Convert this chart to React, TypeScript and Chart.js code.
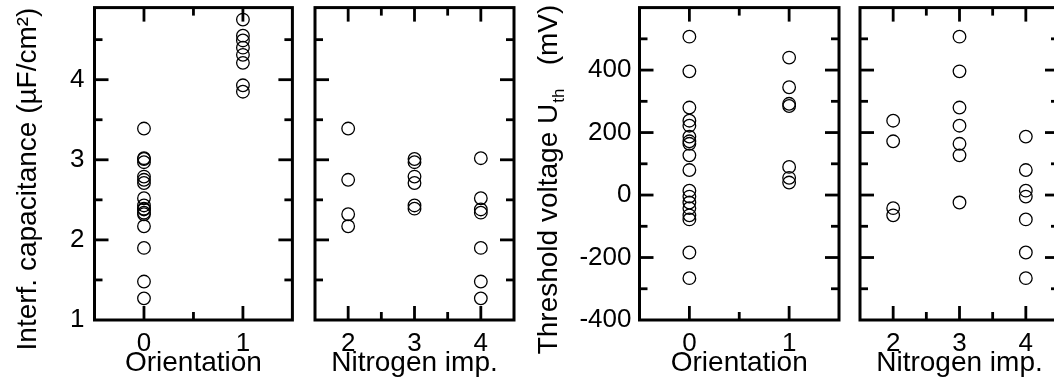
import React, { useEffect, useRef } from 'react';
import { Chart, registerables } from 'chart.js';

Chart.register(...registerables);

// ---- Data ----
const orientationCats = [0, 1];
const nitrogenCats = [2, 3, 4];

// Interface capacitance (µF/cm²)
const capOrient0 = [3.39, 3.02, 3.01, 2.97, 2.79, 2.75, 2.71, 2.52, 2.43, 2.39, 2.38, 2.34, 2.32, 2.17, 1.9, 1.48, 1.27];
const capOrient1 = [4.75, 4.55, 4.49, 4.4, 4.31, 4.21, 3.93, 3.85];
const capN2 = [3.39, 2.75, 2.32, 2.17];
const capN3 = [3.01, 2.97, 2.79, 2.71, 2.43, 2.39];
const capN4 = [3.02, 2.52, 2.38, 2.34, 1.9, 1.48, 1.27];

// Threshold voltage (mV)
const vthOrient0 = [507, 396, 280, 238, 222, 187, 172, 164, 127, 80, 14, -5, -24, -42, -65, -78, -184, -266];
const vthOrient1 = [440, 345, 292, 285, 90, 55, 40];
const vthN2 = [238, 172, -42, -65];
const vthN3 = [507, 396, 280, 222, 164, 127, -24];
const vthN4 = [187, 80, 14, -5, -78, -184, -266];

const capTicks = [1, 2, 3, 4];
const vthTicks = [-400, -200, 0, 200, 400];

const FONT = "'Liberation Sans', Arial, Helvetica, sans-serif";
const H = 383;

type Panel = {
  left: number;
  width: number;
  areaLeft: number;
  areaRight: number;
  areaTop: number;
  areaBottom: number;
  xMin: number;
  xMax: number;
  yMin: number;
  yMax: number;
  yStep: number;
  yMinorStep: number;
  cats: number[];
  groups: number[][];
  xTitle: string;
  yTicks: number[];
  yTitle?: { parts: { text: string; sub?: boolean }[]; cx: number; cy: number };
  labelPad: number;
};

const panels: Panel[] = [
  {
    left: 0, width: 300, areaLeft: 94.5, areaRight: 293, areaTop: 5, areaBottom: 320,
    xMin: -0.5, xMax: 1.5, yMin: 1, yMax: 4.9, yStep: 1, yMinorStep: 0.5,
    cats: orientationCats, groups: [capOrient0, capOrient1], xTitle: 'Orientation', yTicks: capTicks,
    yTitle: { parts: [{ text: 'Interf. capacitance (µF/cm²)' }], cx: 28, cy: 179 },
    labelPad: 10,
  },
  {
    left: 300, width: 225, areaLeft: 15, areaRight: 214, areaTop: 5, areaBottom: 320,
    xMin: 1.5, xMax: 4.5, yMin: 1, yMax: 4.9, yStep: 1, yMinorStep: 0.5,
    cats: nitrogenCats, groups: [capN2, capN3, capN4], xTitle: 'Nitrogen imp.', yTicks: [],
    labelPad: 10,
  },
  {
    left: 525, width: 325, areaLeft: 114.5, areaRight: 314, areaTop: 4, areaBottom: 320,
    xMin: -0.5, xMax: 1.5, yMin: -400, yMax: 600, yStep: 200, yMinorStep: 100,
    cats: orientationCats, groups: [vthOrient0, vthOrient1], xTitle: 'Orientation', yTicks: vthTicks,
    yTitle: { parts: [{ text: 'Threshold voltage U' }, { text: 'th', sub: true }, { text: '   (mV)' }], cx: 24, cy: 180 },
    labelPad: 8,
  },
  {
    left: 850, width: 225, areaLeft: 10, areaRight: 209, areaTop: 4, areaBottom: 320,
    xMin: 1.5, xMax: 4.5, yMin: -400, yMax: 600, yStep: 200, yMinorStep: 100,
    cats: nitrogenCats, groups: [vthN2, vthN3, vthN4], xTitle: 'Nitrogen imp.', yTicks: [],
    labelPad: 8,
  },
];

function makeFramePlugin(p: Panel) {
  return {
    id: 'frameTicks',
    afterDraw(chart: any) {
      const { ctx, chartArea: a, scales } = chart;
      const xs = scales.x;
      const ys = scales.y;
      ctx.save();
      ctx.strokeStyle = '#000';
      ctx.lineCap = 'butt';
      ctx.lineWidth = 2.8;
      const line = (x1: number, y1: number, x2: number, y2: number) => {
        ctx.beginPath();
        ctx.moveTo(x1, y1);
        ctx.lineTo(x2, y2);
        ctx.stroke();
      };
      // x ticks (inward, bottom and top)
      for (let v = Math.ceil(p.xMin * 2) / 2; v <= p.xMax + 1e-9; v += 0.5) {
        const px = xs.getPixelForValue(v);
        if (px <= a.left + 2 || px >= a.right - 2) continue;
        const len = Math.abs(v - Math.round(v)) < 1e-9 ? 14 : 8;
        line(px, a.bottom, px, a.bottom - len);
        line(px, a.top, px, a.top + len);
      }
      // y ticks (inward, left and right)
      for (let v = Math.ceil(p.yMin / p.yMinorStep) * p.yMinorStep; v <= p.yMax + 1e-9; v += p.yMinorStep) {
        const py = ys.getPixelForValue(v);
        if (py <= a.top + 2 || py >= a.bottom - 2) continue;
        const major = Math.abs(v / p.yStep - Math.round(v / p.yStep)) < 1e-6;
        const len = major ? 14 : 8;
        line(a.left, py, a.left + len, py);
        line(a.right, py, a.right - len, py);
      }
      // frame
      ctx.lineWidth = 3;
      ctx.strokeRect(a.left, a.top, a.right - a.left, a.bottom - a.top);

      // y title (rotated, with optional subscript)
      if (p.yTitle) {
        const mainFont = `28px ${FONT}`;
        const subFont = `17px ${FONT}`;
        const widths = p.yTitle.parts.map((pt) => {
          ctx.font = pt.sub ? subFont : mainFont;
          return ctx.measureText(pt.text).width;
        });
        const total = widths.reduce((s, w) => s + w, 0);
        ctx.translate(p.yTitle.cx, p.yTitle.cy);
        ctx.rotate(-Math.PI / 2);
        ctx.fillStyle = '#000';
        ctx.textAlign = 'left';
        ctx.textBaseline = 'middle';
        let xpos = -total / 2;
        p.yTitle.parts.forEach((pt, i) => {
          ctx.font = pt.sub ? subFont : mainFont;
          ctx.fillText(pt.text, xpos + (pt.sub ? 1 : 0), pt.sub ? 10 : 0);
          xpos += widths[i] + (pt.sub ? 1 : 0);
        });
      }
      ctx.restore();
    },
  };
}

function PanelChart({ p }: { p: Panel }) {
  const ref = useRef<HTMLCanvasElement | null>(null);
  useEffect(() => {
    if (!ref.current) return;
    const datasets = p.groups.map((ys, i) => ({
      label: String(p.cats[i]),
      data: ys.map((y) => ({ x: p.cats[i], y })),
      showLine: false,
      pointStyle: 'circle' as const,
      pointRadius: 6.3,
      pointHoverRadius: 6.3,
      pointBorderWidth: 1.3,
      pointBackgroundColor: 'rgba(0,0,0,0)',
      pointBorderColor: '#000',
      borderColor: '#000',
      backgroundColor: 'rgba(0,0,0,0)',
    }));
    const chart = new Chart(ref.current, {
      type: 'scatter',
      data: { datasets },
      options: {
        animation: false,
        responsive: false,
        events: [],
        layout: { padding: { top: p.areaTop, right: p.width - p.areaRight, left: 0, bottom: 0 } },
        plugins: { legend: { display: false }, tooltip: { enabled: false } },
        scales: {
          x: {
            type: 'linear',
            min: p.xMin,
            max: p.xMax,
            grid: { display: false, drawTicks: false },
            border: { display: false },
            afterBuildTicks: (s: any) => {
              s.ticks = p.cats.map((v) => ({ value: v }));
            },
            ticks: {
              padding: 8,
              color: '#000',
              font: { family: FONT, size: 26 },
              maxRotation: 0,
              autoSkip: false,
              callback: (v: any) => String(v),
            },
            title: {
              display: true,
              text: p.xTitle,
              color: '#000',
              font: { family: FONT, size: 28 },
              padding: { top: 0, bottom: 3 },
            },
            afterFit: (s: any) => {
              s.height = H - p.areaBottom;
              s.paddingLeft = 0;
              s.paddingRight = 0;
              s.paddingTop = 0;
              s.paddingBottom = 0;
            },
          },
          y: {
            type: 'linear',
            min: p.yMin,
            max: p.yMax,
            grid: { display: false, drawTicks: false },
            border: { display: false },
            afterBuildTicks: (s: any) => {
              s.ticks = (p.yTicks.length ? p.yTicks : [p.yMin]).map((v) => ({ value: v }));
            },
            ticks: {
              display: p.yTicks.length > 0,
              padding: p.labelPad,
              color: '#000',
              font: { family: FONT, size: 26 },
              autoSkip: false,
              callback: (v: any) => String(v),
            },
            afterFit: (s: any) => {
              s.width = p.areaLeft;
              s.paddingLeft = 0;
              s.paddingRight = 0;
              s.paddingTop = 0;
              s.paddingBottom = 0;
            },
          },
        },
      },
      plugins: [makeFramePlugin(p)],
    });
    return () => chart.destroy();
  }, [p]);
  return (
    <canvas
      ref={ref}
      width={p.width}
      height={H}
      style={{ position: 'absolute', left: p.left, top: 0, width: p.width, height: H, display: 'block' }}
    />
  );
}

export default function App() {
  return (
    <div
      style={{
        position: 'fixed',
        left: 0,
        top: 0,
        width: 1054,
        height: H,
        overflow: 'hidden',
        background: '#fff',
      }}
    >
      {panels.map((p, i) => (
        <PanelChart key={i} p={p} />
      ))}
    </div>
  );
}
